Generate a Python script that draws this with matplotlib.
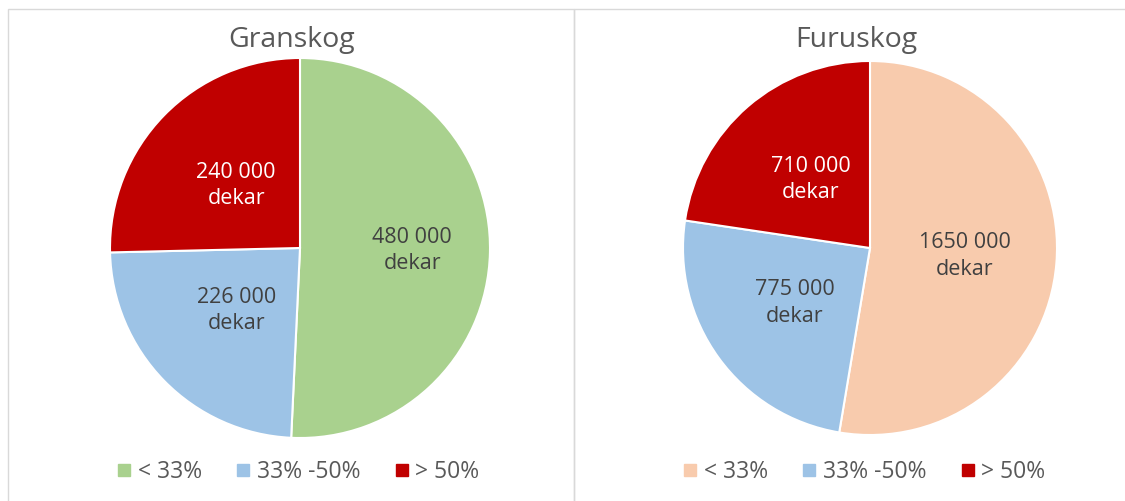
import matplotlib.pyplot as plt
from matplotlib.lines import Line2D
from matplotlib.patches import Rectangle
import numpy as np

plt.rcParams['font.family'] = ['Open Sans', 'DejaVu Sans']

# data
categories = ['< 33%', '33% -50%', '> 50%']
gran_values = [480000, 226000, 240000]
gran_labels = ['480 000\ndekar', '226 000\ndekar', '240 000\ndekar']
furu_values = [1650000, 775000, 710000]
furu_labels = ['1650 000\ndekar', '775 000\ndekar', '710 000\ndekar']
gran_colors = ['#A9D18E', '#9DC3E6', '#C00000']
furu_colors = ['#F8CBAD', '#9DC3E6', '#C00000']
label_colors = ['#404040', '#404040', 'white']

W, H = 1125, 501
fig = plt.figure(figsize=(W / 100, H / 100), dpi=100)


def px_axes(cx, cy, r):
    # axes given pie centre and radius in pixels (from top-left)
    return fig.add_axes([(cx - r) / W, (H - cy - r) / H, 2 * r / W, 2 * r / H])


def draw_pie(cx, cy, r, values, labels, colors, dists, title, tx, lx):
    ax = px_axes(cx, cy, r)
    wedges, _ = ax.pie(values, colors=colors, startangle=90, counterclock=False,
                       wedgeprops=dict(edgecolor='white', linewidth=1.5))
    ax.set_xlim(-1, 1)
    ax.set_ylim(-1, 1)
    for w, lab, d, col in zip(wedges, labels, dists, label_colors):
        ang = np.deg2rad((w.theta1 + w.theta2) / 2)
        ax.text(d * np.cos(ang), d * np.sin(ang), lab, ha='center', va='center',
                fontsize=15.5, color=col, linespacing=1.35)
    fig.text(tx / W, 1 - 40 / H, title, ha='center', va='center', fontsize=20.5, color='#595959')
    handles = [Line2D([], [], marker='s', linestyle='none', markersize=9,
                      markerfacecolor=c, markeredgecolor=c) for c in colors]
    fig.legend(handles, categories, loc='center', bbox_to_anchor=(lx / W, 1 - 472 / H),
               ncol=3, frameon=False, fontsize=16.5, labelcolor='#595959',
               handletextpad=0.1, columnspacing=1.3, handlelength=1.0)


draw_pie(300, 248, 190, gran_values, gran_labels, gran_colors, [0.59, 0.47, 0.47], 'Granskog', 292, 296)
draw_pie(870, 248, 187, furu_values, furu_labels, furu_colors, [0.51, 0.50, 0.485], 'Furuskog', 856, 862)

# panel borders
border = '#D9D9D9'
fig.add_artist(Rectangle((8 / W, -0.1), (574 - 8) / W, 1 - 9 / H + 0.1,
                         transform=fig.transFigure, fill=False, edgecolor=border, linewidth=1))
fig.add_artist(Rectangle((574 / W, -0.1), 0.6, 1 - 9 / H + 0.1,
                         transform=fig.transFigure, fill=False, edgecolor=border, linewidth=1))

fig.savefig('out.png', dpi=100)
